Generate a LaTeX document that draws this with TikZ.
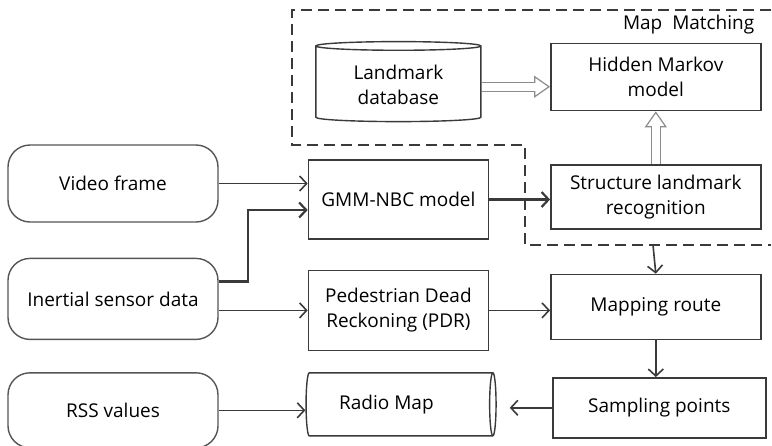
\documentclass[tikz,border=0pt]{standalone}
\usepackage{fontspec}
\setmainfont{Open Sans}
\usepackage{tikz}
\usetikzlibrary{positioning,shapes.geometric,arrows.meta}
\definecolor{linec}{HTML}{3A3A3A}
\definecolor{srcc}{HTML}{555555}
\definecolor{dblc}{HTML}{8C8C8C}

\begin{document}
\begin{tikzpicture}[x=1pt,y=-1pt,thick,
      font=\fontsize{19}{25}\selectfont,text=black,
      src node/.style={draw=srcc,line width=1.4pt,rounded corners=22pt,minimum width=210pt,align=center},
      proc node/.style={draw=linec,line width=1.4pt,align=center},
      db node/.style={cylinder,draw=linec,line width=1.4pt,align=center},
      arr/.style={-{Straight Barb[length=7pt,width=15pt]},line width=1.6pt,draw=linec},
      dbl/.style={draw=dblc,line width=1.2pt,-{Triangle[length=16pt,width=22pt,fill=white]},
        postaction={draw=dblc,-,line width=10pt,shorten >=15.5pt},
        postaction={draw=white,-,line width=7.6pt,shorten >=14pt}}]
      \useasboundingbox (0,0) rectangle (772,445);

      \node[src node,minimum height=77pt] (video) at (113,183.5) {Video frame};
      \node[src node,minimum height=81pt] (inertial) [below=35pt of video] {Inertial sensor data};
      \node[src node,minimum height=75pt] (rss) [below=32pt of inertial] {RSS values};

      \node[proc node,minimum width=180pt,minimum height=79pt] (gmm) [right=89pt of video,yshift=-16pt] {GMM-NBC model};
      \node[proc node,minimum width=180pt,minimum height=80pt] (pdr) [below=30pt of gmm] {Pedestrian Dead\\Reckoning (PDR)};
      \node[db node,shape aspect=0.25,minimum width=63pt,minimum height=190pt] (radio) [below=21pt of pdr] {Radio Map\hspace*{24pt}};
      \node[db node,shape border rotate=90,shape aspect=0.09,minimum width=165pt,minimum height=80pt] (landmark) [above=37pt of gmm] {Landmark\\database};

      \node[proc node,minimum width=210pt,minimum height=64pt] (struct) [right=61pt of gmm,yshift=2.5pt] {Structure landmark\\recognition};
      \node[proc node,minimum width=210pt,minimum height=67pt] (hmm) [above=53pt of struct] {Hidden Markov\\model};
      \node[proc node,minimum width=210pt,minimum height=65pt] (mapping) [below=44pt of struct] {Mapping route};
      \node[proc node,minimum width=213pt,minimum height=60pt] (sampling) [below=37pt of mapping,xshift=3.5pt] {Sampling points};

      % map matching region
      \node[anchor=base east] (mmtitle) at (758,29) {Map~~Matching};
      \draw[linec,line width=1.6pt,dash pattern=on 11pt off 6pt]
        (771,10) -- (292,10) -- (292,145) -- (525,145) -- (525,245) -- (771,245);
      \coordinate (mmout) at (653,245);

      \draw[arr] (video.east) -- (video.east -| gmm.west);
      \draw[arr,line width=2.2pt] ([yshift=17.5pt]inertial.east) -- ++(29,0) |- ([yshift=-10.5pt]gmm.west);
      \draw[arr] ([yshift=-11.5pt]inertial.east) -- (pdr.west);
      \draw[arr] (rss.east) -- (rss.east -| radio.west);
      \draw[arr,line width=2.2pt] (gmm.east) -- (gmm.east -| struct.west);
      \draw[dbl] ([yshift=-2pt]landmark.east) -- ([yshift=-2pt]landmark.east -| hmm.west);
      \draw[dbl] (struct.north) -- (hmm.south);
      \draw[arr] (mmout) -- (mapping.north);
      \draw[arr] (pdr.east) -- (pdr.east -| mapping.west);
      \draw[arr] (mapping.south) -- (mapping.south |- sampling.north);
      \draw[arr,shorten >=13pt] (sampling.west) -- (sampling.west -| radio.east);
    \end{tikzpicture}
\end{document}
